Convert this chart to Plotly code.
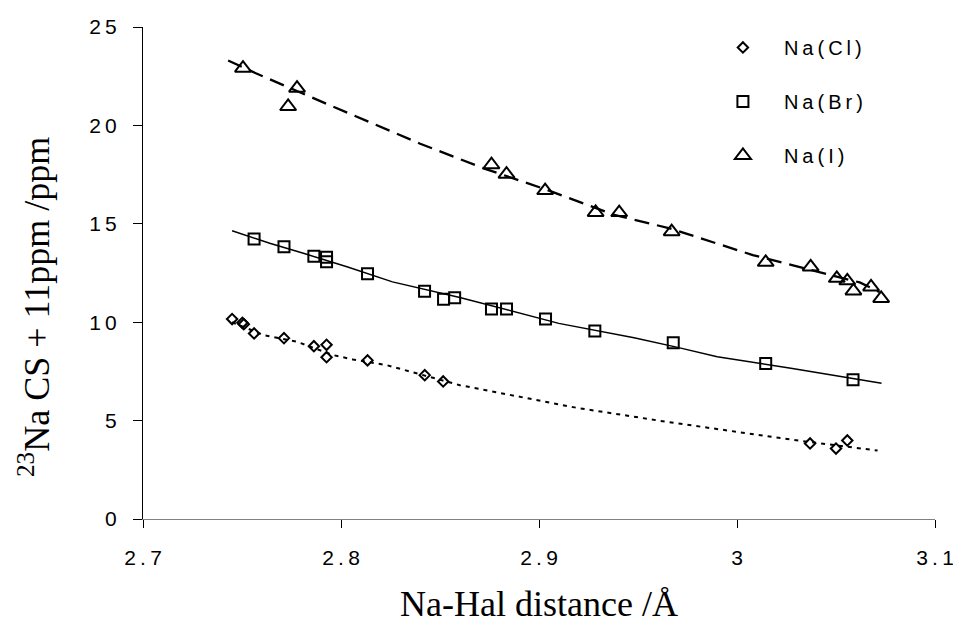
import plotly.graph_objects as go

# Measured points: Na-Hal distance (Å) and 23Na chemical shift + 11 ppm
cl_x = [2.7450, 2.7502, 2.7509, 2.7561, 2.7712, 2.7863, 2.7927, 2.7927, 2.8134,
        2.8423, 2.8516, 3.0369, 3.0500, 3.0557]
cl_y = [10.16, 9.97, 9.90, 9.43, 9.19, 8.78, 8.85, 8.22, 8.06,
        7.31, 6.99, 3.84, 3.58, 3.99]

br_x = [2.7561, 2.7712, 2.7863, 2.7927, 2.7927, 2.8134, 2.8422, 2.8518, 2.8574,
        2.8760, 2.8836, 2.9033, 2.9282, 2.9678, 3.0145, 3.0586]
br_y = [14.23, 13.84, 13.35, 13.30, 13.07, 12.46, 11.57, 11.16, 11.24,
        10.67, 10.67, 10.16, 9.55, 8.96, 7.90, 7.08]

i_x = [2.7505, 2.7778, 2.7733, 2.8760, 2.8836, 2.9031, 2.9286, 2.9405,
       2.9670, 3.0145, 3.0372, 3.0504, 3.0557, 3.0588, 3.0677, 3.0728]
i_y = [22.91, 21.89, 20.96, 18.00, 17.52, 16.69, 15.58, 15.57,
       14.60, 13.04, 12.81, 12.23, 12.10, 11.59, 11.79, 11.21]

# Fitted trend curves
cl_fit_x = [2.745, 2.761, 2.778, 2.796, 2.806, 2.823, 2.860, 2.919, 2.965, 3.010, 3.032, 3.071]
cl_fit_y = [10.00, 9.34, 9.00, 8.33, 8.11, 7.82, 6.80, 5.65, 4.93, 4.29, 3.97, 3.48]

br_fit_x = [2.745, 2.764, 2.781, 2.803, 2.826, 2.860, 2.910, 2.948, 2.970, 2.990, 3.028, 3.073]
br_fit_y = [14.65, 14.01, 13.50, 12.82, 12.05, 11.26, 9.94, 9.21, 8.72, 8.24, 7.65, 6.90]

i_fit_x = [2.743, 2.757, 2.794, 2.818, 2.840, 2.872, 2.903, 2.938, 2.966, 3.008, 3.040, 3.062, 3.072]
i_fit_y = [23.30, 22.65, 21.04, 20.03, 19.07, 17.82, 16.76, 15.45, 14.77, 13.41, 12.60, 12.02, 11.53]

x_ticks = [2.7, 2.8, 2.9, 3.0, 3.1]
x_tick_text = ["2.7", "2.8", "2.9", "3", "3.1"]
y_ticks = [0, 5, 10, 15, 20, 25]
y_tick_text = ["0", "5", "10", "15", "20", "25"]

series_names = ["Na(Cl)", "Na(Br)", "Na(I)"]


def spaced(s):
    # widen the sans-serif labels with thin spaces between characters
    return "\u2009".join(s)


SANS = "Liberation Sans, Arial, sans-serif"
SERIF = "Liberation Serif, Times New Roman, serif"

fig = go.Figure()

# trend lines
fig.add_trace(go.Scatter(x=cl_fit_x, y=cl_fit_y, mode="lines", showlegend=False,
                         hoverinfo="skip",
                         line=dict(color="black", width=2, dash="4px,5px")))
fig.add_trace(go.Scatter(x=br_fit_x, y=br_fit_y, mode="lines", showlegend=False,
                         hoverinfo="skip",
                         line=dict(color="black", width=1.5)))
fig.add_trace(go.Scatter(x=i_fit_x, y=i_fit_y, mode="lines", showlegend=False,
                         hoverinfo="skip",
                         line=dict(color="black", width=2.3, dash="15px,8px")))

# data markers
marker_specs = [
    (cl_x, cl_y, "diamond-open", 8, 2),
    (br_x, br_y, "square-open", 11, 2),
    (i_x, i_y, "triangle-up-open", 14, 2),
]
for k, (xs, ys, sym, size, lw) in enumerate(marker_specs):
    fig.add_trace(go.Scatter(
        x=xs, y=ys, mode="markers", name=spaced(series_names[k]),
        legendgroup=series_names[k],
        marker=dict(symbol=sym, size=size, color="black",
                    line=dict(color="black", width=lw)),
    ))

fig.update_layout(
    width=953, height=630,
    margin=dict(l=143, r=18, t=27, b=111, autoexpand=False),
    paper_bgcolor="white", plot_bgcolor="white",
    font=dict(family=SANS, size=20, color="black"),
    showlegend=True,
    legend=dict(
        x=0.7057, y=0.998, xanchor="left", yanchor="top",
        bgcolor="rgba(0,0,0,0)", borderwidth=0,
        traceorder="grouped", tracegroupgap=25,
        itemwidth=72, font=dict(family=SANS, size=20),
    ),
    xaxis=dict(
        range=[2.7, 3.1000001], tickvals=x_ticks,
        ticktext=[spaced(t) for t in x_tick_text],
        showgrid=False, zeroline=False, automargin=False,
        showline=True, linecolor="#808080", linewidth=1.3,
        ticks="outside", ticklen=8, tickcolor="black", tickwidth=1,
        ticklabelstandoff=12, ticklabeloverflow="allow",
        tickfont=dict(family=SANS, size=21),
        title=dict(text="Na-Hal distance /Å", standoff=22,
                   font=dict(family=SERIF, size=36)),
    ),
    yaxis=dict(
        range=[0, 25], tickvals=y_ticks,
        ticktext=[spaced(t) for t in y_tick_text],
        showgrid=False, zeroline=False, automargin=False,
        showline=True, linecolor="black", linewidth=1,
        ticks="outside", ticklen=9, tickcolor="black", tickwidth=1,
        ticklabelstandoff=12, ticklabeloverflow="allow",
        tickfont=dict(family=SANS, size=21),
    ),
    annotations=[dict(
        text="<sup>23</sup>Na CS + 11ppm /ppm",
        xref="paper", yref="paper", x=-0.1377, y=0.4308,
        xanchor="center", yanchor="middle", textangle=-90,
        showarrow=False, font=dict(family=SERIF, size=36, color="black"),
    )],
)

fig.write_html("out.html")
